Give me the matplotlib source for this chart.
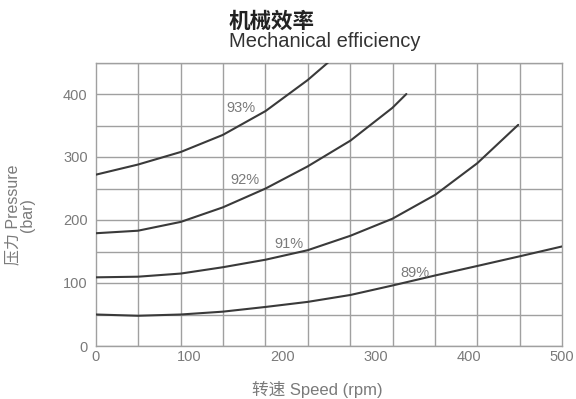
import numpy as np
import matplotlib
matplotlib.use("Agg")
import matplotlib.pyplot as plt

# ---- data ----
rpm_93 = [0, 45, 91, 136, 182, 227, 249]
p_93 = [272, 288, 308, 335, 373, 422, 450]

rpm_92 = [0, 45, 91, 136, 182, 227, 273, 318, 333]
p_92 = [179, 183, 197, 220, 250, 285, 326, 378, 400]

rpm_91 = [0, 45, 91, 136, 182, 227, 273, 318, 364, 409, 453]
p_91 = [109, 110, 115, 125, 137, 152, 175, 202, 240, 290, 351]

rpm_89 = [0, 45, 91, 136, 182, 227, 273, 318, 364, 409, 455, 500]
p_89 = [50, 48, 50, 54.5, 62, 70, 81, 96, 112, 127, 142.5, 158]

curve_labels = ["93%", "92%", "91%", "89%"]
label_rpm = [156, 160, 207, 342]
label_p = [378, 263, 162, 116]

x_ticks = [0, 100, 200, 300, 400, 500]
y_ticks = [0, 100, 200, 300, 400]

LAT = ["Liberation Sans", "Noto Sans CJK SC", "DejaVu Sans"]
plt.rcParams['font.family'] = LAT

fig = plt.figure(figsize=(5.76, 3.99), dpi=100)
ax = fig.add_axes([96/576, 1-346/399, (562-96)/576, (346-62.5)/399])

grid_c = "#a0a0a0"
line_c = "#3a3a3a"
txt_c = "#7a7a7a"

for r, p in [(rpm_93, p_93), (rpm_92, p_92), (rpm_91, p_91), (rpm_89, p_89)]:
    ax.plot(r, p, color=line_c, lw=1.5, solid_capstyle='round',
            solid_joinstyle='round', zorder=3)

for t, r, p in zip(curve_labels, label_rpm, label_p):
    ax.text(r, p, t, ha='center', va='center', fontsize=10.5, color=txt_c, zorder=4)

ax.set_xlim(0, 500)
ax.set_ylim(0, 450)
ax.set_xticks(x_ticks)
ax.set_yticks(y_ticks)
ax.set_xticks(np.linspace(0, 500, 12), minor=True)
ax.set_yticks(np.arange(50, 451, 100), minor=True)
ax.xaxis.grid(False, which='major')
ax.xaxis.grid(True, which='minor', color=grid_c, lw=1.0)
ax.yaxis.grid(True, which='both', color=grid_c, lw=1.0)
ax.set_axisbelow(True)
ax.tick_params(which='both', length=0)
ax.tick_params(axis='x', pad=3, labelsize=10.5, labelcolor=txt_c)
ax.tick_params(axis='y', pad=6, labelsize=10.5, labelcolor=txt_c)
for s in ax.spines.values():
    s.set_color(grid_c)
    s.set_linewidth(1.0)

fig.text(229/576, 1-28/399, "机械效率", family=["Noto Sans CJK SC"], fontweight='bold',
         fontsize=15.5, color="#222222", ha='left', va='baseline')
fig.text(229/576, 1-47/399, "Mechanical efficiency", fontsize=14.5, color="#333333",
         ha='left', va='baseline')

fig.text(20/576, 1-215/399, "压力 Pressure\n(bar)", rotation=90, ha='center', va='center',
         multialignment='center', linespacing=0.95, fontsize=11.5, color=txt_c)
fig.text(317/576, 1-390/399, "转速 Speed (rpm)", ha='center', va='center',
         fontsize=12, color=txt_c)

fig.savefig("out.png", dpi=100, facecolor='white')
